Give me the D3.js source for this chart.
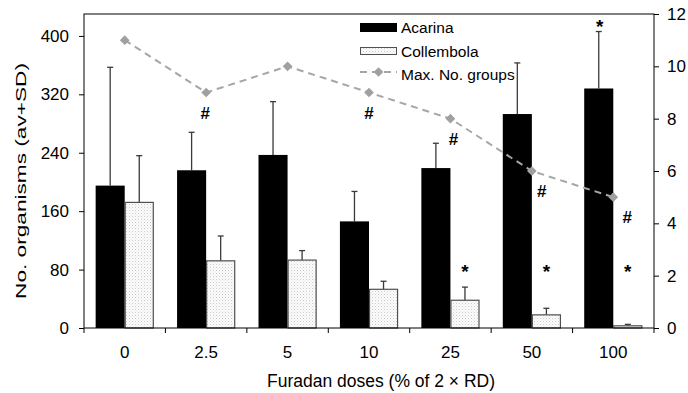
<!DOCTYPE html>
<html>
<head>
<meta charset="utf-8">
<script src="https://cdn.jsdelivr.net/npm/d3@7"></script>
<style>
  html, body { margin: 0; padding: 0; background: #fff; }
  svg { display: block; font-family: "Liberation Sans", Arial, sans-serif; }
</style>
</head>
<body>
<svg id="chart" width="688" height="393"></svg>
<script>
// Furadan dose levels (% of 2 × RD)
const doses = ["0", "2.5", "5", "10", "25", "50", "100"];

// Mean counts of soil micro-arthropods and their standard deviations
const acarinaMean = [195, 216, 237, 146, 219, 293, 328];
const acarinaSD   = [162, 52, 73, 41, 34, 70, 78];
const collembolaMean = [172, 92, 93, 53, 38, 18, 3];
const collembolaSD   = [64, 34, 13, 11, 18, 9, 2];

// Maximum number of taxonomic groups (right axis)
const maxGroups = [11, 9, 10, 9, 8, 6, 5];

// Significance marks
const hashDoses = ["2.5", "10", "25", "50", "100"];   // # under the groups line
const starCollembola = ["25", "50", "100"];            // * above Collembola bars
const starAcarina = ["100"];                           // * above Acarina error bar

const leftTicks = [0, 80, 160, 240, 320, 400];
const rightTicks = [0, 2, 4, 6, 8, 10, 12];

const svg = d3.select("#chart");
const m = { left: 84, right: 654, top: 14, bottom: 328 };

const x = d3.scaleBand().domain(doses).range([m.left, m.right]);
const yL = d3.scaleLinear().domain([0, 430]).range([m.bottom, m.top]);
const yR = d3.scaleLinear().domain([0, 12]).range([m.bottom, m.top]);
const barW = x.bandwidth() * 0.357;
const center = d => x(d) + x.bandwidth() / 2;

// stippled fill for Collembola
const defs = svg.append("defs");
const pat = defs.append("pattern").attr("id", "stip")
  .attr("width", 3).attr("height", 3).attr("patternUnits", "userSpaceOnUse");
pat.append("rect").attr("width", 3).attr("height", 3).attr("fill", "#fcfcfc");
pat.append("rect").attr("x", 0).attr("y", 0).attr("width", 1).attr("height", 1).attr("fill", "#cacaca");
pat.append("rect").attr("x", 1.5).attr("y", 1.5).attr("width", 1).attr("height", 1).attr("fill", "#dddddd");

const fontTick = 17;

const g = svg.append("g");
const acData = doses.map((d, i) => ({ d, v: acarinaMean[i], sd: acarinaSD[i] }));
const coData = doses.map((d, i) => ({ d, v: collembolaMean[i], sd: collembolaSD[i] }));

// error bars (drawn first so the bars sit over the stems)
function errorBars(data, cx) {
  const eg = g.append("g").attr("stroke", "#3a3a3a").attr("stroke-width", 1.3);
  eg.selectAll("line.stem").data(data).join("line")
    .attr("x1", d => cx(d)).attr("x2", d => cx(d))
    .attr("y1", d => yL(d.v)).attr("y2", d => yL(d.v + d.sd));
  eg.selectAll("line.cap").data(data).join("line")
    .attr("x1", d => cx(d) - 3).attr("x2", d => cx(d) + 3)
    .attr("y1", d => yL(d.v + d.sd)).attr("y2", d => yL(d.v + d.sd));
}
errorBars(acData, d => center(d.d) - barW / 2);
errorBars(coData, d => center(d.d) + barW / 2);

// Acarina (solid) and Collembola (stippled) bars
g.selectAll("rect.ac").data(acData).join("rect")
  .attr("x", d => center(d.d) - barW).attr("width", barW)
  .attr("y", d => yL(d.v)).attr("height", d => yL(0) - yL(d.v))
  .attr("fill", "#000");
g.selectAll("rect.co").data(coData).join("rect")
  .attr("x", d => center(d.d) + 0.5).attr("width", barW - 1)
  .attr("y", d => yL(d.v)).attr("height", d => yL(0) - yL(d.v))
  .attr("fill", "url(#stip)").attr("stroke", "#505050").attr("stroke-width", 1.2);

// groups line
const line = d3.line().x((d, i) => center(doses[i])).y(d => yR(d));
svg.append("path").datum(maxGroups).attr("d", line)
  .attr("fill", "none").attr("stroke", "#a6a6a6").attr("stroke-width", 2)
  .attr("stroke-dasharray", "7,5");
const diamond = d3.symbol().type(d3.symbolDiamond2).size(60);
svg.selectAll("path.dm").data(maxGroups).join("path")
  .attr("d", diamond)
  .attr("transform", (d, i) => `translate(${center(doses[i])},${yR(d)})`)
  .attr("fill", "#a0a0a0");

// frame
svg.append("rect").attr("x", m.left).attr("y", m.top)
  .attr("width", m.right - m.left).attr("height", m.bottom - m.top)
  .attr("fill", "none").attr("stroke", "#000").attr("stroke-width", 1);

// axes
const axL = svg.append("g").attr("transform", `translate(${m.left},0)`)
  .call(d3.axisLeft(yL).tickValues(leftTicks).tickSize(5).tickPadding(10));
const axR = svg.append("g").attr("transform", `translate(${m.right},0)`)
  .call(d3.axisRight(yR).tickValues(rightTicks).tickSize(5).tickPadding(8));
// category boundary ticks
const bounds = doses.map(d => x(d)).concat([m.right]);
svg.append("g").selectAll("line").data(bounds).join("line")
  .attr("x1", d => d).attr("x2", d => d).attr("y1", m.bottom).attr("y2", m.bottom + 5)
  .attr("stroke", "#000");
svg.append("g").selectAll("text").data(doses).join("text")
  .attr("x", d => center(d)).attr("y", 358).attr("text-anchor", "middle")
  .attr("font-size", fontTick).text(d => d);

[axL, axR].forEach(a => {
  a.select(".domain").remove();
  a.selectAll("text").attr("font-size", fontTick).attr("font-family", "Liberation Sans, Arial, sans-serif").attr("fill", "#000");
  a.selectAll("line").attr("stroke", "#000");
});

// axis titles
svg.append("text").attr("x", 381).attr("y", 387).attr("text-anchor", "middle")
  .attr("font-size", 17.5).text("Furadan doses (% of 2 × RD)");
svg.append("text").attr("transform", "translate(26,181) rotate(-90)")
  .attr("text-anchor", "middle").attr("font-size", 15)
  .attr("textLength", 236).attr("lengthAdjust", "spacingAndGlyphs")
  .text("No. organisms (av+SD)");

// significance marks
const hashDx = { "2.5": -1, "10": 0, "25": 3, "50": 10, "100": 14 };
svg.selectAll("text.hash").data(hashDoses).join("text")
  .attr("x", d => center(d) + hashDx[d])
  .attr("y", d => yR(maxGroups[doses.indexOf(d)]) + 26)
  .attr("text-anchor", "middle").attr("font-size", 17).attr("font-weight", "bold").text("#");
svg.selectAll("text.starc").data(starCollembola).join("text")
  .attr("x", d => center(d) + barW / 2).attr("y", yL(82) + 10)
  .attr("text-anchor", "middle").attr("font-size", 19).attr("font-weight", "bold").text("*");
svg.selectAll("text.stara").data(starAcarina).join("text")
  .attr("x", d => center(d) - barW / 2 + 1)
  .attr("y", d => { const i = doses.indexOf(d); return yL(acarinaMean[i] + acarinaSD[i]) + 1; })
  .attr("text-anchor", "middle").attr("font-size", 19).attr("font-weight", "bold").text("*");

// legend
const lg = svg.append("g");
const lx = 360, lw = 37;
lg.append("rect").attr("x", lx).attr("y", 23).attr("width", lw).attr("height", 9).attr("fill", "#000");
lg.append("rect").attr("x", lx + 0.5).attr("y", 47.5).attr("width", lw - 1).attr("height", 7)
  .attr("fill", "url(#stip)").attr("stroke", "#505050").attr("stroke-width", 1);
lg.append("line").attr("x1", lx).attr("x2", lx + lw).attr("y1", 72).attr("y2", 72)
  .attr("stroke", "#a6a6a6").attr("stroke-width", 2).attr("stroke-dasharray", "7,5");
lg.append("path").attr("d", diamond).attr("transform", `translate(${lx + lw / 2},72)`).attr("fill", "#a0a0a0");
const legendNames = ["Acarina", "Collembola", "Max. No. groups"];
lg.selectAll("text").data(legendNames).join("text")
  .attr("x", 401).attr("y", (d, i) => 33 + i * 23.5)
  .attr("font-size", 15.5).text(d => d);
</script>
</body>
</html>
